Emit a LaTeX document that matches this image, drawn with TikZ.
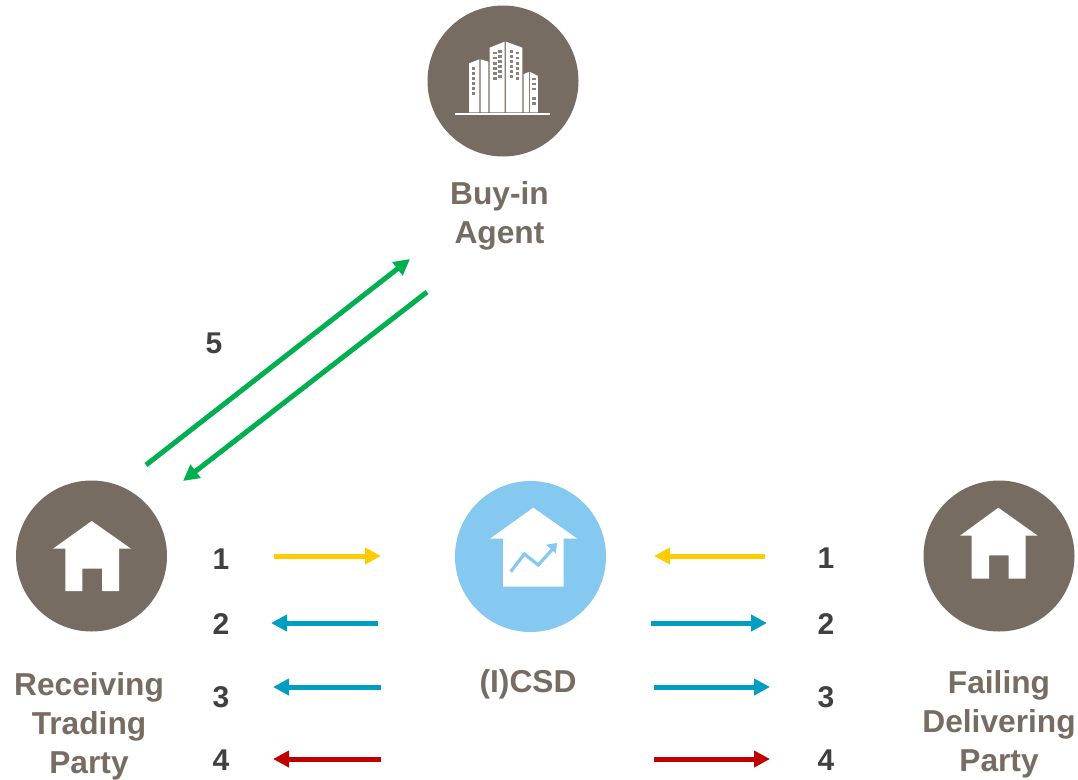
\documentclass[tikz,border=0pt]{standalone}
\usepackage{fontspec}
\setmainfont{Liberation Sans}
\usetikzlibrary{arrows.meta}
\definecolor{taupe}{HTML}{776C61}
\definecolor{skyb}{HTML}{85C8F0}
\definecolor{numc}{HTML}{404040}
\definecolor{yel}{HTML}{FFCC00}
\definecolor{teal}{HTML}{009FC2}
\definecolor{redd}{HTML}{C00000}
\definecolor{grn}{HTML}{00B050}
\tikzset{
  party/.style={circle,fill=taupe,draw=none,minimum size=151pt,inner sep=0pt},
  csd/.style={circle,fill=skyb,draw=none,minimum size=151pt,inner sep=0pt},
  lbl/.style={text=taupe,align=center,inner sep=0pt,font=\fontsize{31.7}{39}\selectfont\bfseries},
  num/.style={text=numc,inner sep=0pt,font=\fontsize{30}{36}\selectfont\bfseries},
  flow/.style={line width=5pt,-{Triangle[length=16pt,width=16pt]}},
}
\begin{document}
\begin{tikzpicture}[x=1pt,y=-1pt]
\useasboundingbox (0,0) rectangle (1078,779);
% circles
\node[party] (agent) at (503,81) {};
\node[party] (recv) at (91.5,556) {};
\node[csd] (icsd) at (530.5,556.5) {};
\node[party] (fail) at (999,556) {};
% houses
\fill[white] (91.7,521)--(131,548.7)--(119,548.7)--(119,591)--(102,591)--(102,568.7)--(82.3,568.7)--(82.3,591)--(65.3,591)--(65.3,548.7)--(53,548.7)--cycle;
\fill[white] (998.3,507.7)--(1037.7,535.7)--(1025.7,535.7)--(1025.7,578.7)--(1008.7,578.7)--(1008.7,555.3)--(989,555.3)--(989,578.7)--(971.7,578.7)--(971.7,535.7)--(960,535.7)--cycle;
\fill[white] (533.3,507.7)--(577.3,538.7)--(563.7,538.7)--(563.7,586.7)--(503,586.7)--(503,538.7)--(490,538.7)--cycle;
% chart in house
\draw[skyb,line width=3.2pt] (510.7,571.7)--(524.3,554)--(538.3,565)--(553,548.5);
\fill[skyb] (557,543)--(546,544.7)--(555.7,553.3)--cycle;
% buildings
\begin{scope}[shift={(420,0)},x=0.3333pt,y=-0.3333pt]
\fill[white] (105,339)rectangle(391,344);
\fill[white] (147,190)--(178,178)--(178,337)--(147,337)--cycle;
\fill[white] (182,178)--(205,185)--(205,337)--(182,337)--cycle;
\fill[white] (209,143)--(254,125)--(254,337)--(209,337)--cycle;
\fill[white] (258,125)--(307,143)--(307,337)--(258,337)--cycle;
\fill[white] (311,222)--(327,216)--(327,337)--(311,337)--cycle;
\fill[white] (330,216)--(354,228)--(354,337)--(330,337)--cycle;
\foreach \y in {201,216,231,246,261,276}{\fill[taupe!85] (156,\y) rectangle ++(10,8);}
\foreach \y in {155,170,186,201,216,231}{
  \fill[taupe!85] (220,\y) rectangle ++(10,8);
  \fill[taupe!85] (235,\y-5) rectangle ++(10,8);
  \fill[taupe!85] (270,\y-5) rectangle ++(10,8);
  \fill[taupe!85] (288,\y) rectangle ++(10,8);
}
\foreach \y in {233,248,263,292,307}{\fill[taupe!85] (337,\y) rectangle ++(10,8);}
\end{scope}
% labels
\node[lbl] (lagent) at (499.5,216) {Buy-in\\Agent};
\node[lbl] (lrecv) at (89,726) {Receiving\\Trading\\Party};
\node[lbl] (licsd) at (528,684) {(I)CSD};
\node[lbl] (lfail) at (999,724) {Failing\\Delivering\\Party};
% numbers
\node[num] (n5) at (214,343) {5};
\node[num] (l1) at (221,559) {1};
\node[num] (l2) at (221,624) {2};
\node[num] (l3) at (221,697) {3};
\node[num] (l4) at (221,760) {4};
\node[num] (r1) at (826,558) {1};
\node[num] (r2) at (826,624) {2};
\node[num] (r3) at (826,697) {3};
\node[num] (r4) at (826,760) {4};
% free ends
\coordinate (a1) at (274,556); \coordinate (b1) at (381,556);
\coordinate (a2) at (378,623); \coordinate (b2) at (271,623);
\coordinate (a3) at (381,687); \coordinate (b3) at (273,687);
\coordinate (a4) at (381,759); \coordinate (b4) at (273,759);
\coordinate (c1) at (765,556); \coordinate (d1) at (654,556);
\coordinate (c2) at (651,623); \coordinate (d2) at (767,623);
\coordinate (c3) at (654,687); \coordinate (d3) at (770,687);
\coordinate (c4) at (654,759); \coordinate (d4) at (770,759);
\coordinate (g1) at (146,465); \coordinate (g2) at (410,259);
\coordinate (g3) at (427,292); \coordinate (g4) at (183,481);
% arrows
\draw[flow,yel] (a1)--(b1);
\draw[flow,teal] (a2)--(b2);
\draw[flow,teal] (a3)--(b3);
\draw[flow,redd] (a4)--(b4);
\draw[flow,yel] (c1)--(d1);
\draw[flow,teal] (c2)--(d2);
\draw[flow,teal] (c3)--(d3);
\draw[flow,redd] (c4)--(d4);
\draw[flow,grn] (g1)--(g2);
\draw[flow,grn] (g3)--(g4);
\end{tikzpicture}
\end{document}
